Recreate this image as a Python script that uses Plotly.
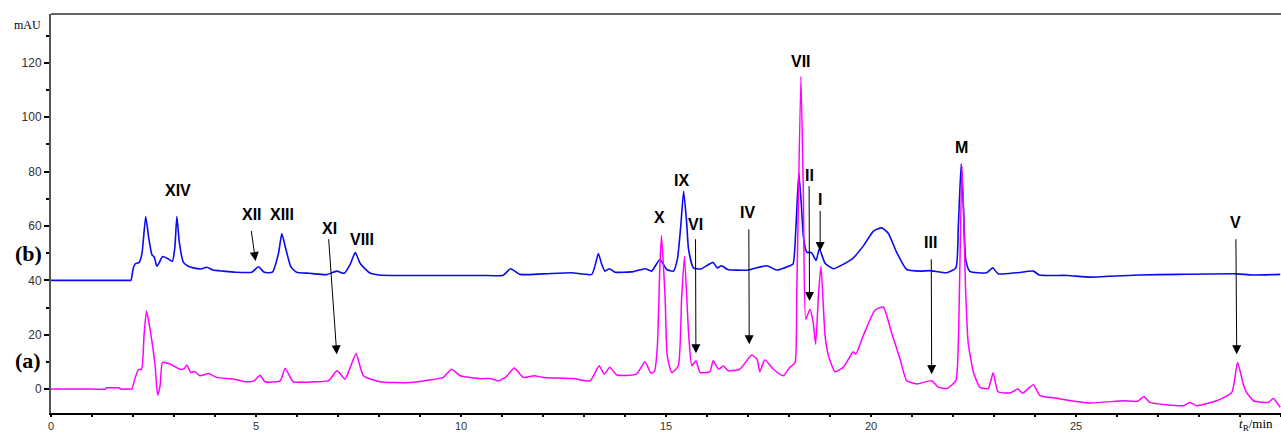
import plotly.graph_objects as go

# ---- trace (b): blue chromatogram ----
b_time = [0, 1.0, 1.90, 1.95, 2.00, 2.05, 2.15, 2.22, 2.31, 2.38, 2.46, 2.52, 2.58, 2.64, 2.72, 2.85, 2.96, 3.02,
          3.07, 3.13, 3.23, 3.35, 3.47, 3.65, 3.80, 3.95, 4.2, 4.5, 4.9, 5.06, 5.20, 5.40, 5.55, 5.63,
          5.72, 5.85, 5.99, 6.3, 6.72, 6.97, 7.15, 7.30, 7.42, 7.55, 7.78, 8.0, 8.5, 9.5, 10.5, 11.03,
          11.21, 11.44, 12.0, 12.70, 13.19, 13.28, 13.35, 13.43, 13.51, 13.62, 13.76, 14.2, 14.49, 14.65,
          14.85, 15.02, 15.18, 15.28, 15.36, 15.43, 15.50, 15.55, 15.67, 15.85, 16.15, 16.25, 16.36, 16.5,
          17.0, 17.46, 17.7, 18.02, 18.10, 18.17, 18.24, 18.30, 18.35, 18.43, 18.55, 18.66, 18.74, 18.88,
          19.08, 19.32, 19.57, 19.81, 20.06, 20.26, 20.42, 20.63, 20.87, 21.2, 21.44, 21.85, 22.07, 22.13,
          22.20, 22.26, 22.31, 22.41, 22.82, 22.97, 23.1, 23.55, 23.96, 24.1, 24.8, 25.34, 26.56, 27.5,
          28.92, 29.3, 29.98]
b_signal = [40, 40, 40, 40, 44, 46, 46.6, 50, 63.5, 56, 49.5, 48.5, 45.2, 46.5, 48.8, 48, 47, 52,
            63.5, 54, 46.6, 45.2, 44.6, 44.2, 44.8, 43.8, 43.4, 43.0, 43.0, 45.0, 43.0, 43.0, 50, 57.2,
            52, 45, 43.0, 42.6, 42.1, 43.4, 42.6, 46, 50.2, 46, 42.7, 42.0, 41.8, 41.8, 41.8, 41.9,
            44.3, 42.2, 42.4, 42.8, 42.2, 46, 49.9, 46, 43.4, 44.3, 43.0, 43.2, 44.3, 43.4,
            47.7, 44.0, 43.4, 48, 60, 72.8, 62, 51.4, 44.6, 44.2, 46.6, 44.6, 45.4, 44.0,
            43.8, 45.4, 43.8, 45.4, 46, 60, 79.5, 68, 56.3, 50.4, 50.2, 47.3, 51.6, 46.3,
            44.3, 45.9, 48.3, 52.6, 58.1, 59.3, 57.3, 50.2, 44.0, 43.4, 43.6, 42.8, 44.6, 60,
            82.9, 65, 47.7, 43.3, 42.8, 44.6, 42.4, 42.8, 43.4, 42.0, 41.8, 41.2, 42.0, 42.2,
            42.4, 42.0, 42.2]

# ---- trace (a): magenta chromatogram ----
a_time = [0, 1.0, 1.33, 1.36, 1.40, 1.63, 1.66, 1.70, 1.93, 1.97, 2.03, 2.13, 2.21, 2.27, 2.33, 2.43, 2.54, 2.60, 2.66, 2.72,
          2.90, 3.15, 3.25, 3.31, 3.41, 3.51, 3.63, 3.84, 4.04, 4.45, 4.77, 4.95, 5.10, 5.22, 5.59, 5.71,
          5.91, 6.43, 6.76, 6.98, 7.17, 7.30, 7.44, 7.62, 8.02, 8.76, 9.23, 9.57, 9.77, 9.98, 10.47, 10.71,
          10.91, 11.1, 11.30, 11.52, 11.78, 12.0, 12.74, 13.15, 13.37, 13.49, 13.63, 13.80, 14.28, 14.49,
          14.63, 14.72, 14.79, 14.85, 14.89, 14.98, 15.03, 15.14, 15.30, 15.38, 15.45, 15.55, 15.63, 15.73,
          15.83, 16.07, 16.15, 16.28, 16.40, 16.52, 16.80, 17.09, 17.22, 17.29, 17.41, 17.62, 17.86, 18.02,
          18.07, 18.15, 18.19, 18.29, 18.35, 18.41, 18.51, 18.59, 18.65, 18.72, 18.78, 18.88, 18.96, 19.12,
          19.32, 19.57, 19.63, 19.81, 20.10, 20.30, 20.50, 20.71, 20.87, 21.12, 21.48, 21.64, 21.85, 22.07,
          22.13, 22.22, 22.31, 22.37, 22.50, 22.66, 22.86, 22.98, 23.1, 23.39, 23.58, 23.7, 23.96, 24.12,
          24.53, 25.34, 26.15, 26.5, 26.66, 26.80, 27.62, 27.78, 27.94, 28.43, 28.80, 28.94, 29.08, 29.16,
          29.33, 29.69, 29.81, 29.98]
a_signal = [0, 0, 0, 0.5, 0.5, 0.5, 0.5, 0, 0, 0, 3, 7.1, 7.3, 20, 28.7, 20.8, 8.6, -2.2, 1.2, 9.8,
            9.2, 7.3, 7.5, 8.9, 6.1, 6.5, 4.9, 5.7, 4.3, 3.7, 2.7, 3.0, 5.1, 2.7, 3.0, 7.7,
            2.7, 2.7, 3.0, 6.7, 3.7, 8, 13.1, 4.9, 2.7, 2.4, 3.3, 4.3, 7.3, 4.9, 3.8, 3.9,
            3.0, 4.5, 7.8, 4.3, 4.9, 4.3, 3.9, 3.0, 8.6, 5.5, 8.0, 5.2, 5.5, 10.1,
            5.9, 6.5, 15.9, 45, 56.5, 33.0, 12.2, 6.1, 8.6, 33.0, 48.9, 20.8, 8.6, 10.4,
            6.1, 6.4, 10.4, 7.3, 8.5, 6.7, 7.3, 12.5, 11.0, 6.4, 10.8, 7.3, 4.9, 8.0,
            8.6, 9.9, 35.5, 115, 72.2, 25.7, 29.4, 24.5, 16.5, 35, 45.3, 19.6, 12.5, 6.4,
            8.0, 13.7, 12.8, 19.6, 29.1, 30.2, 20.8, 11.0, 3.1, 1.9, 3.1, 0.7, 0.2, 3.1,
            17.1, 82, 35.5, 17.1, 6.1, 0.6, 0.2, 6.0, -1.0, -1.4, 0, -1.5, 1.6, -2.4,
            -3.4, -5.1, -4.3, -4.5, -2.7, -4.9, -6.1, -4.9, -6.1, -4.3, -1.2, 9.8, 1.8, -1.2,
            -4.3, -4.9, -3.5, -6.7]

# ---- peak labels (name, time, label height) ----
peak_names = ["XIV", "XII", "XIII", "XI", "VIII", "X", "IX", "VI", "IV", "VII", "II", "I", "III", "M", "V"]
peak_label_t = [3.10, 4.90, 5.63, 6.80, 7.59, 14.83, 15.39, 15.71, 16.98, 18.29, 18.49, 18.76, 21.46, 22.20, 28.88]
peak_label_y = [73.0, 64.2, 64.2, 59.1, 55.0, 63.1, 76.7, 60.6, 65.0, 120.4, 78.5, 69.7, 53.9, 88.8, 61.3]

# ---- arrows: tail (t, y) -> head (t, y) ----
arrow_tail_t = [4.88, 6.77, 15.72, 17.02, 18.49, 18.76, 21.47, 28.90]
arrow_tail_y = [58.7, 55.7, 55.7, 59.3, 75.2, 66.1, 48.3, 55.7]
arrow_head_t = [4.99, 6.97, 15.73, 17.03, 18.50, 18.76, 21.48, 28.92]
arrow_head_y = [47.1, 12.8, 13.2, 16.5, 32.4, 50.8, 5.5, 12.8]

x_tick_vals = [0, 5, 10, 15, 20, 25]
y_tick_vals = [0, 20, 40, 60, 80, 100, 120]

fig = go.Figure()
fig.add_trace(go.Scatter(x=b_time, y=b_signal, mode="lines",
                         line=dict(color="#0a0af0", width=1.6, shape="spline", smoothing=0.5),
                         name="(b)", showlegend=False))
fig.add_trace(go.Scatter(x=a_time, y=a_signal, mode="lines",
                         line=dict(color="#ff00ff", width=1.5, shape="spline", smoothing=0.5),
                         name="(a)", showlegend=False))

annotations = []
for name, t, y in zip(peak_names, peak_label_t, peak_label_y):
    annotations.append(dict(x=t, y=y, xref="x", yref="y", text="<b>" + name + "</b>", showarrow=False,
                            font=dict(family="Liberation Sans, Arial", size=16, color="black"),
                            xanchor="center", yanchor="middle"))
for tt, ty, ht, hy in zip(arrow_tail_t, arrow_tail_y, arrow_head_t, arrow_head_y):
    annotations.append(dict(x=ht, y=hy, ax=tt, ay=ty, xref="x", yref="y", axref="x", ayref="y",
                            text="", showarrow=True, arrowhead=2, arrowsize=1.8, arrowwidth=1,
                            arrowcolor="black", standoff=0, startstandoff=0))

# outside-plot texts, placed in paper coordinates (plot area: x 51..1281 px, y 14..413 px)
def px_to_paper(px, py):
    return (px - 51) / 1230.0, (413 - py) / 399.0

for txt, (px, py), fnt in [
    ("<b>(b)</b>", (28, 253), dict(family="Liberation Serif, Times New Roman", size=22, color="black")),
    ("<b>(a)</b>", (28, 360), dict(family="Liberation Serif, Times New Roman", size=22, color="black")),
    ("mAU", (27, 25), dict(family="Liberation Serif, Times New Roman", size=12, color="black")),
    ("<i>t</i><sub>R</sub>/min", (1256, 424), dict(family="Liberation Serif, Times New Roman", size=13, color="black")),
]:
    xp, yp = px_to_paper(px, py)
    annotations.append(dict(x=xp, y=yp, xref="paper", yref="paper", text=txt, showarrow=False,
                            xanchor="center", yanchor="middle", font=fnt))

fig.update_layout(
    width=1281, height=432,
    margin=dict(l=51, r=0, t=14, b=19, autoexpand=False),
    paper_bgcolor="white", plot_bgcolor="white",
    annotations=annotations,
    shapes=[dict(type="line", xref="paper", yref="paper", x0=0, x1=1, y0=1, y1=1,
                 line=dict(color="#666666", width=2))],
)
fig.update_xaxes(range=[0, 30], showgrid=False, zeroline=False, automargin=False,
                 showline=True, linecolor="black", linewidth=2,
                 tickmode="array", tickvals=x_tick_vals, ticks="outside", ticklen=2,
                 tickwidth=2, tickcolor="black", ticklabelstandoff=0,
                 minor=dict(dtick=1, ticks="outside", ticklen=2, tickwidth=2, tickcolor="black"),
                 tickfont=dict(family="Liberation Sans, Arial", size=11, color="#333333"))
fig.update_yaxes(range=[-8.8, 138], showgrid=False, zeroline=False, automargin=False,
                 showline=True, linecolor="#555555", linewidth=2,
                 tickmode="array", tickvals=y_tick_vals, ticks="outside", ticklen=5,
                 tickwidth=2, tickcolor="black",
                 minor=dict(dtick=10, tick0=0, ticks="outside", ticklen=3, tickwidth=1.5, tickcolor="black"),
                 tickfont=dict(family="Liberation Sans, Arial", size=12, color="#333333"))

fig.write_html("out.html", post_script="document.body.style.margin='0px';",
               config={"displayModeBar": False})
